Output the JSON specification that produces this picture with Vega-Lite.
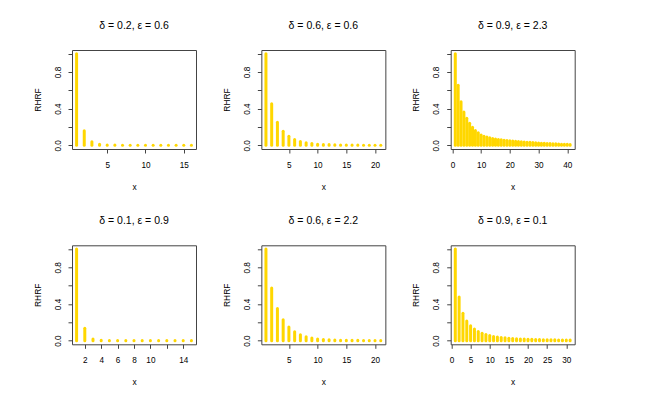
{
  "$schema": "https://vega.github.io/schema/vega-lite/v6.json",
  "background": "white",
  "padding": {"left": 32, "top": 20, "right": 5, "bottom": 5},
  "config": {
    "font": "Liberation Sans",
    "view": {"stroke": "#444", "strokeWidth": 1},
    "axis": {"domain": false, "grid": false, "ticks": true, "tickSize": 4, "tickColor": "#444", "labelFont": "Liberation Sans", "labelFontSize": 8.2, "labelColor": "#000", "titleFont": "Liberation Sans", "titleFontSize": 8.4, "titleFontWeight": "normal", "titleColor": "#000"},
    "axisX": {"labelPadding": 8, "titlePadding": 14, "labelFlush": false},
    "axisY": {"labelAngle": -90, "labelPadding": 6, "titlePadding": 11, "labelFlush": false},
    "title": {"font": "Liberation Sans", "fontSize": 10.5, "fontWeight": "normal", "color": "#000", "offset": 19}
  },
  "datasets": {
    "p1": [{"x":1,"y":1},{"x":2,"y":0.16},{"x":3,"y":0.04},{"x":4,"y":0.012},{"x":5,"y":0.005},{"x":6,"y":0.003},{"x":7,"y":0.002},{"x":8,"y":0.002},{"x":9,"y":0.001},{"x":10,"y":0.001},{"x":11,"y":0.001},{"x":12,"y":0.001},{"x":13,"y":0.001},{"x":14,"y":0.001},{"x":15,"y":0.001},{"x":16,"y":0.001}],
    "p2": [{"x":1,"y":1},{"x":2,"y":0.453},{"x":3,"y":0.253},{"x":4,"y":0.154},{"x":5,"y":0.098},{"x":6,"y":0.063},{"x":7,"y":0.042},{"x":8,"y":0.028},{"x":9,"y":0.019},{"x":10,"y":0.013},{"x":11,"y":0.01},{"x":12,"y":0.008},{"x":13,"y":0.006},{"x":14,"y":0.005},{"x":15,"y":0.004},{"x":16,"y":0.003},{"x":17,"y":0.003},{"x":18,"y":0.002},{"x":19,"y":0.002},{"x":20,"y":0.002},{"x":21,"y":0.001}],
    "p3": [{"x":1,"y":1},{"x":2,"y":0.655},{"x":3,"y":0.475},{"x":4,"y":0.365},{"x":5,"y":0.295},{"x":6,"y":0.24},{"x":7,"y":0.197},{"x":8,"y":0.163},{"x":9,"y":0.136},{"x":10,"y":0.114},{"x":11,"y":0.1},{"x":12,"y":0.09},{"x":13,"y":0.082},{"x":14,"y":0.075},{"x":15,"y":0.069},{"x":16,"y":0.064},{"x":17,"y":0.06},{"x":18,"y":0.056},{"x":19,"y":0.053},{"x":20,"y":0.05},{"x":21,"y":0.047},{"x":22,"y":0.044},{"x":23,"y":0.041},{"x":24,"y":0.039},{"x":25,"y":0.037},{"x":26,"y":0.035},{"x":27,"y":0.033},{"x":28,"y":0.03},{"x":29,"y":0.028},{"x":30,"y":0.026},{"x":31,"y":0.024},{"x":32,"y":0.022},{"x":33,"y":0.02},{"x":34,"y":0.019},{"x":35,"y":0.017},{"x":36,"y":0.016},{"x":37,"y":0.014},{"x":38,"y":0.013},{"x":39,"y":0.012},{"x":40,"y":0.011},{"x":41,"y":0.01}],
    "p4": [{"x":1,"y":1},{"x":2,"y":0.135},{"x":3,"y":0.018},{"x":4,"y":0.004},{"x":5,"y":0.002},{"x":6,"y":0.001},{"x":7,"y":0.001},{"x":8,"y":0.001},{"x":9,"y":0.001},{"x":10,"y":0.001},{"x":11,"y":0.001},{"x":12,"y":0.001},{"x":13,"y":0.001},{"x":14,"y":0.001},{"x":15,"y":0.001}],
    "p5": [{"x":1,"y":1},{"x":2,"y":0.575},{"x":3,"y":0.35},{"x":4,"y":0.228},{"x":5,"y":0.148},{"x":6,"y":0.097},{"x":7,"y":0.064},{"x":8,"y":0.042},{"x":9,"y":0.028},{"x":10,"y":0.018},{"x":11,"y":0.013},{"x":12,"y":0.009},{"x":13,"y":0.007},{"x":14,"y":0.005},{"x":15,"y":0.004},{"x":16,"y":0.003},{"x":17,"y":0.003},{"x":18,"y":0.002},{"x":19,"y":0.002},{"x":20,"y":0.002},{"x":21,"y":0.001}],
    "p6": [{"x":1,"y":1},{"x":2,"y":0.475},{"x":3,"y":0.3},{"x":4,"y":0.213},{"x":5,"y":0.162},{"x":6,"y":0.128},{"x":7,"y":0.1},{"x":8,"y":0.08},{"x":9,"y":0.066},{"x":10,"y":0.055},{"x":11,"y":0.046},{"x":12,"y":0.04},{"x":13,"y":0.035},{"x":14,"y":0.031},{"x":15,"y":0.027},{"x":16,"y":0.024},{"x":17,"y":0.021},{"x":18,"y":0.019},{"x":19,"y":0.017},{"x":20,"y":0.015},{"x":21,"y":0.014},{"x":22,"y":0.013},{"x":23,"y":0.012},{"x":24,"y":0.011},{"x":25,"y":0.01},{"x":26,"y":0.009},{"x":27,"y":0.009},{"x":28,"y":0.008},{"x":29,"y":0.008},{"x":30,"y":0.007},{"x":31,"y":0.007}]
  },
  "columns": 3,
  "bounds": "flush",
  "spacing": {"row": 96.3, "column": 65.35},
  "concat": [
    {
      "data": {"name": "p1"}, "title": "δ = 0.2, ε = 0.6", "width": 124, "height": 99,
      "mark": {"type": "rule", "color": "#FFD700", "strokeWidth": 3, "strokeCap": "round"},
      "encoding": {
        "x": {"field": "x", "type": "quantitative", "title": "x", "scale": {"domain": [0.4, 16.6], "nice": false, "zero": false}, "axis": {"values": [5, 10, 15]}},
        "y": {"field": "y", "type": "quantitative", "title": "RHRF", "scale": {"domain": [-0.04, 1.04], "nice": false, "zero": false}, "axis": {"values": [0, 0.2, 0.4, 0.6, 0.8, 1.0], "labelExpr": "round(datum.value*10) % 4 == 0 ? format(datum.value, '.1f') : ''"}},
        "y2": {"datum": 0}
      }
    },
    {
      "data": {"name": "p2"}, "title": "δ = 0.6, ε = 0.6", "width": 124, "height": 99,
      "mark": {"type": "rule", "color": "#FFD700", "strokeWidth": 3, "strokeCap": "round"},
      "encoding": {
        "x": {"field": "x", "type": "quantitative", "title": "x", "scale": {"domain": [0.2, 21.8], "nice": false, "zero": false}, "axis": {"values": [5, 10, 15, 20]}},
        "y": {"field": "y", "type": "quantitative", "title": "RHRF", "scale": {"domain": [-0.04, 1.04], "nice": false, "zero": false}, "axis": {"values": [0, 0.2, 0.4, 0.6, 0.8, 1.0], "labelExpr": "round(datum.value*10) % 4 == 0 ? format(datum.value, '.1f') : ''"}},
        "y2": {"datum": 0}
      }
    },
    {
      "data": {"name": "p3"}, "title": "δ = 0.9, ε = 2.3", "width": 124, "height": 99,
      "mark": {"type": "rule", "color": "#FFD700", "strokeWidth": 3, "strokeCap": "round"},
      "encoding": {
        "x": {"field": "x", "type": "quantitative", "title": "x", "scale": {"domain": [-0.6, 42.6], "nice": false, "zero": false}, "axis": {"values": [0, 10, 20, 30, 40]}},
        "y": {"field": "y", "type": "quantitative", "title": "RHRF", "scale": {"domain": [-0.04, 1.04], "nice": false, "zero": false}, "axis": {"values": [0, 0.2, 0.4, 0.6, 0.8, 1.0], "labelExpr": "round(datum.value*10) % 4 == 0 ? format(datum.value, '.1f') : ''"}},
        "y2": {"datum": 0}
      }
    },
    {
      "data": {"name": "p4"}, "title": "δ = 0.1, ε = 0.9", "width": 124, "height": 99,
      "mark": {"type": "rule", "color": "#FFD700", "strokeWidth": 3, "strokeCap": "round"},
      "encoding": {
        "x": {"field": "x", "type": "quantitative", "title": "x", "scale": {"domain": [0.44, 15.56], "nice": false, "zero": false}, "axis": {"values": [2, 4, 6, 8, 10, 12, 14], "labelExpr": "datum.value == 12 ? '' : datum.label"}},
        "y": {"field": "y", "type": "quantitative", "title": "RHRF", "scale": {"domain": [-0.04, 1.04], "nice": false, "zero": false}, "axis": {"values": [0, 0.2, 0.4, 0.6, 0.8, 1.0], "labelExpr": "round(datum.value*10) % 4 == 0 ? format(datum.value, '.1f') : ''"}},
        "y2": {"datum": 0}
      }
    },
    {
      "data": {"name": "p5"}, "title": "δ = 0.6, ε = 2.2", "width": 124, "height": 99,
      "mark": {"type": "rule", "color": "#FFD700", "strokeWidth": 3, "strokeCap": "round"},
      "encoding": {
        "x": {"field": "x", "type": "quantitative", "title": "x", "scale": {"domain": [0.2, 21.8], "nice": false, "zero": false}, "axis": {"values": [5, 10, 15, 20]}},
        "y": {"field": "y", "type": "quantitative", "title": "RHRF", "scale": {"domain": [-0.04, 1.04], "nice": false, "zero": false}, "axis": {"values": [0, 0.2, 0.4, 0.6, 0.8, 1.0], "labelExpr": "round(datum.value*10) % 4 == 0 ? format(datum.value, '.1f') : ''"}},
        "y2": {"datum": 0}
      }
    },
    {
      "data": {"name": "p6"}, "title": "δ = 0.9, ε = 0.1", "width": 124, "height": 99,
      "mark": {"type": "rule", "color": "#FFD700", "strokeWidth": 3, "strokeCap": "round"},
      "encoding": {
        "x": {"field": "x", "type": "quantitative", "title": "x", "scale": {"domain": [-0.2, 32.2], "nice": false, "zero": false}, "axis": {"values": [0, 5, 10, 15, 20, 25, 30]}},
        "y": {"field": "y", "type": "quantitative", "title": "RHRF", "scale": {"domain": [-0.04, 1.04], "nice": false, "zero": false}, "axis": {"values": [0, 0.2, 0.4, 0.6, 0.8, 1.0], "labelExpr": "round(datum.value*10) % 4 == 0 ? format(datum.value, '.1f') : ''"}},
        "y2": {"datum": 0}
      }
    }
  ]
}
